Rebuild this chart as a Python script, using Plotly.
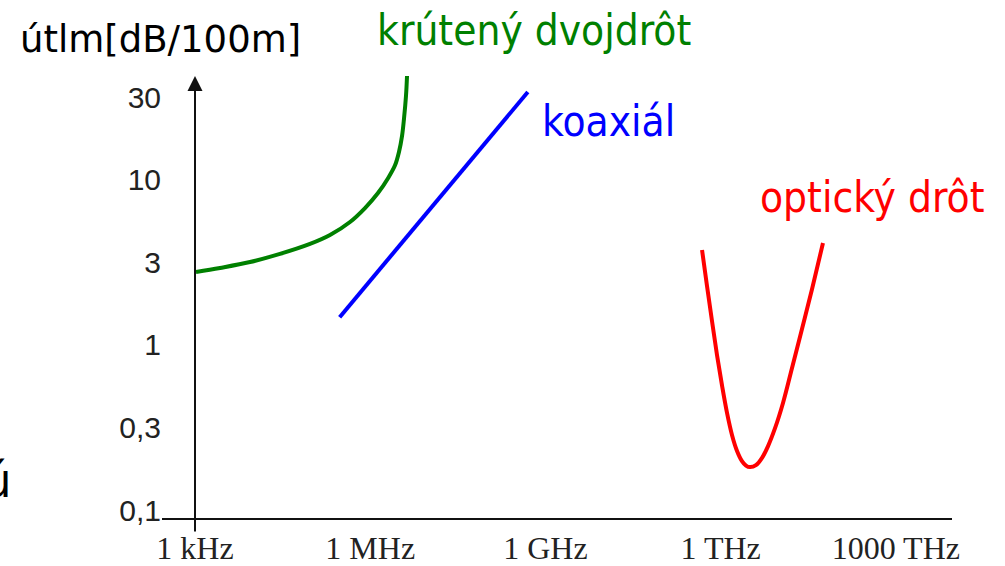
import numpy as np
import plotly.graph_objects as go

# ---- data ----
twisted_f = [1.04e3, 2.68e3, 8.75e3, 2.85e4, 9.31e4, 2.05e5, 4.51e5, 8.15e5, 1.36e6,
             2.02e6, 2.66e6, 3.11e6, 3.51e6, 3.80e6, 4.10e6, 4.27e6]
twisted_a = [2.76, 2.92, 3.17, 3.55, 4.08, 4.62, 5.54, 6.73, 8.29,
             10.2, 12.2, 14.7, 18.4, 23.6, 32.1, 42.4]

coax_f = [3.0e5, 5.0e8]
coax_a = [1.47, 33.9]

fiber_f = [4.81e11, 5.85e11, 7.13e11, 8.67e11, 1.06e12, 1.29e12, 1.57e12, 1.91e12, 2.32e12, 2.72e12,
           3.18e12, 4.03e12, 5.12e12, 6.49e12, 8.55e12, 1.17e13, 1.67e13, 2.48e13, 3.68e13, 5.66e13]
fiber_a = [3.75, 2.27, 1.39, 0.868, 0.564, 0.386, 0.284, 0.228, 0.198, 0.186,
           0.182, 0.187, 0.207, 0.244, 0.313, 0.445, 0.724, 1.25, 2.18, 4.13]

x_tickvals = [1e3, 1e6, 1e9, 1e12, 1e15]
x_ticktext = ["1 kHz", "1 MHz", "1 GHz", "1 THz", "1000 THz"]
y_tickvals = [0.1, 10 ** -0.5, 1, 10 ** 0.5, 10, 10 ** 1.5]
y_ticktext = ["0,1", "0,3", "1", "3", "10", "30"]

series_names = ["krútený dvojdrôt", "koaxiál", "optický drôt"]
series_colors = ["#008000", "#0000ff", "#ff0000"]

# ---- layout geometry ----
W, H = 1005, 566
L, R, T, B = 162, 53, 60, 48
PW, PH = W - L - R, H - T - B


def px(x):
    return (x - L) / PW


def py(y):
    return (H - B - y) / PH


fig = go.Figure()
for fx, ay, name, col in zip([twisted_f, coax_f, fiber_f], [twisted_a, coax_a, fiber_a], series_names, series_colors):
    fig.add_trace(go.Scatter(x=fx, y=ay, mode="lines", name=name,
                             line=dict(color=col, width=4, shape="spline", smoothing=1.0),
                             hoverinfo="skip", cliponaxis=False))

fig.update_layout(
    width=W, height=H, autosize=False,
    margin=dict(l=L, r=R, t=T, b=B, pad=0),
    paper_bgcolor="white", plot_bgcolor="white",
    showlegend=False,
    xaxis=dict(type="log", range=[2.435, 15.962], tickvals=x_tickvals, ticktext=x_ticktext,
               showgrid=False, zeroline=False, showline=True, linecolor="#111", linewidth=2,
               ticks="", ticklabelstandoff=1,
               tickfont=dict(family="Liberation Serif", size=32, color="#222"), automargin=False),
    yaxis=dict(type="log", range=[-1.048, 1.724], tickvals=y_tickvals, ticktext=y_ticktext,
               showgrid=False, zeroline=False, showline=False, ticks="", ticklabelstandoff=0,
               tickfont=dict(family="Liberation Sans", size=30, color="#222"), automargin=False),
)

cond = "DejaVu Sans Condensed, Noto Sans, sans-serif"
ann = [
    dict(text="útlm[dB/100m]", x=px(18), y=py(40), xanchor="left", yanchor="middle",
         font=dict(family="DejaVu Sans", size=37, color="black")),
    dict(text=series_names[0], x=px(375), y=py(31), xanchor="left", yanchor="middle",
         font=dict(family=cond, size=42, color=series_colors[0])),
    dict(text=series_names[1], x=px(540), y=py(121), xanchor="left", yanchor="middle",
         font=dict(family=cond, size=42, color=series_colors[1])),
    dict(text=series_names[2], x=px(758), y=py(197), xanchor="left", yanchor="middle",
         font=dict(family=cond, size=42, color=series_colors[2])),
    dict(text="ú", x=px(13), y=py(480), xanchor="right", yanchor="middle",
         font=dict(family=cond, size=48, color="black")),
]
for a in ann:
    fig.add_annotation(xref="paper", yref="paper", showarrow=False, **a)

# vertical axis with arrow at 1 kHz
fig.add_annotation(xref="x", yref="paper", x=3, y=py(76), text="", showarrow=True,
                   axref="pixel", ayref="pixel", ax=0, ay=533 - 76,
                   arrowhead=2, arrowsize=1.5, arrowwidth=2, arrowcolor="#111", standoff=0)

fig.write_html("out.html", config={"displayModeBar": False},
               post_script="document.body.style.margin='0';document.body.style.overflow='hidden';")
